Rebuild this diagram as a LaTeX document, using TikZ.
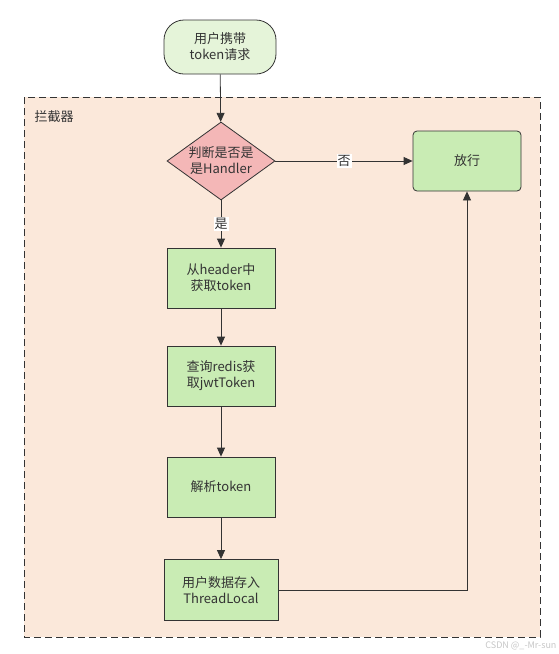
\documentclass[tikz,border=0pt]{standalone}
\usepackage{fontspec}
\setmainfont{Noto Sans CJK SC}
\usepackage{xcolor}
\usepackage{tikz}
\usetikzlibrary{arrows.meta,shapes.geometric}
\definecolor{edge}{HTML}{333333}
\definecolor{startbg}{HTML}{E5F4D9}
\definecolor{boxbg}{HTML}{C9ECB4}
\definecolor{decbg}{HTML}{F4B7B7}
\definecolor{zonebg}{HTML}{FBE8DA}
\tikzset{
  stepbox/.style={draw=edge,thick,fill=boxbg,minimum width=108pt,minimum height=60pt,align=center,inner sep=2pt},
  startbox/.style={draw=edge,thick,fill=startbg,rounded corners=20pt,minimum width=112pt,minimum height=54pt,align=center},
  decide/.style={draw=edge,thick,fill=decbg,diamond,aspect=1.38,minimum width=108pt,minimum height=78pt,inner sep=0pt,align=center},
  flow/.style={draw=edge,thick,-{Triangle[length=9pt,width=8pt]}},
  tag/.style={fill=white,inner sep=1pt}
}
\begin{document}
\begin{tikzpicture}[x=1pt,y=-1pt,font=\fontsize{13}{16}\selectfont,text=edge]
\useasboundingbox (0,0) rectangle (558,654);
% interceptor zone
\draw[edge,thick,dashed,dash pattern=on 7pt off 4pt,fill=zonebg] (24,97) rectangle (540,637);
\node[anchor=west] (zone) at (31,117) {拦截器};
% nodes
\node[startbox] (start) at (220,47) {用户携带\\token请求};
\node[decide] (check) at (221,161) {判断是否是\\是Handler};
\node[stepbox] (header) at (221,278) {从header中\\获取token};
\node[stepbox] (redis) at (221,376) {查询redis获\\取jwtToken};
\node[stepbox] (parse) at (221,487) {解析token};
\node[stepbox,minimum width=114pt,minimum height=61pt] (store) at (221,590) {用户数据存入\\ThreadLocal};
\node[stepbox,rounded corners=4pt] (pass) at (467,161) {放行};
\coordinate (turn) at (pass.south |- store.east);
% connectors
\draw[flow] (start) -- (check);
\draw[flow] (check) -- node[tag] {是} (header);
\draw[flow] (check) -- node[tag] {否} (pass);
\draw[flow] (header) -- (redis);
\draw[flow] (redis) -- (parse);
\draw[flow] (parse) -- (store);
\draw[flow] (store.east) -- (turn) -- (pass.south);
\node[anchor=south east,text=gray!45,font=\fontsize{9}{10}\selectfont] (mark) at (560,654) {CSDN @\_-Mr-sun};
\end{tikzpicture}
\end{document}
